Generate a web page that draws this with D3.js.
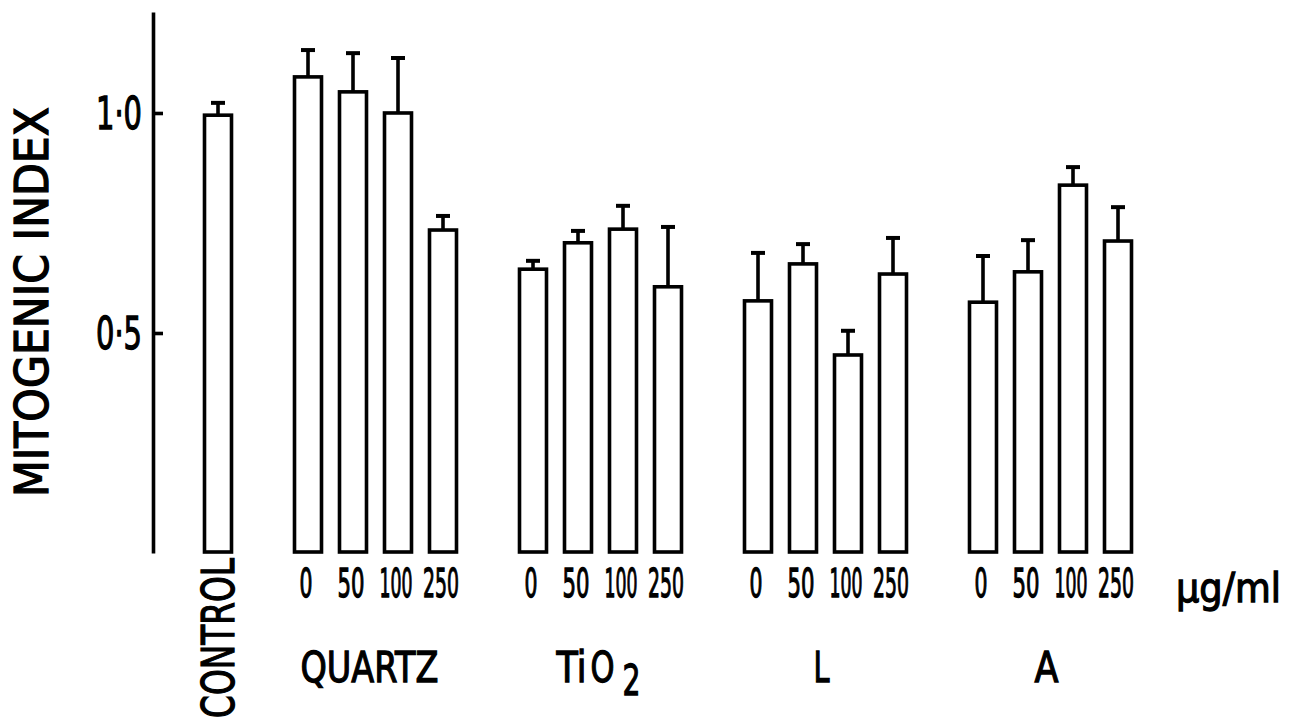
<!DOCTYPE html>
<html>
<head>
<meta charset="utf-8">
<script src="https://cdn.jsdelivr.net/npm/d3@7"></script>
<style>
  html, body { margin: 0; padding: 0; background: #fff; }
  svg { display: block; }
  text { font-family: "DejaVu Sans", sans-serif; font-weight: normal; fill: #000; stroke: #000; stroke-width: 1.3px; }
</style>
</head>
<body>
<svg id="chart" width="1297" height="723"></svg>
<script>
// ---- data ----
const controlLabel = "CONTROL";
const controlValue = 0.995;
const controlErr = 0.028;

const groups = ["QUARTZ", "TiO2", "L", "A"];
const doses = ["0", "50", "100", "250"];
const doseUnit = "µg/ml";

const quartzValues = [1.082, 1.048, 1.000, 0.734];
const quartzErrors = [0.061, 0.088, 0.125, 0.032];
const tio2Values   = [0.645, 0.705, 0.736, 0.605];
const tio2Errors   = [0.019, 0.027, 0.053, 0.136];
const lValues      = [0.573, 0.657, 0.450, 0.634];
const lErrors      = [0.109, 0.045, 0.055, 0.082];
const aValues      = [0.570, 0.639, 0.836, 0.709];
const aErrors      = [0.105, 0.072, 0.041, 0.077];

const yTicks = [0.5, 1.0];
const yTickLabels = ["0·5", "1·0"];
const yTitle = "MITOGENIC INDEX";

// ---- build bar table ----
const groupValues = [quartzValues, tio2Values, lValues, aValues];
const groupErrors = [quartzErrors, tio2Errors, lErrors, aErrors];

const slots = [controlLabel];
const bars = [{ key: controlLabel, value: controlValue, err: controlErr }];
groups.forEach((g, gi) => {
  slots.push("_gap" + gi);
  doses.forEach((d, di) => {
    const key = g + "-" + d;
    slots.push(key);
    bars.push({ key, group: g, dose: d, value: groupValues[gi][di], err: groupErrors[gi][di] });
  });
});

// ---- scales ----
const svg = d3.select("#chart");
const x = d3.scaleBand().domain(slots).range([195.5, 1140.5]).paddingInner(0.4).paddingOuter(0.2);
const y = d3.scaleLinear().domain([0, 1.2295]).range([553, 12]);

const SW = 3.6;

// ---- y axis ----
const yAxis = d3.axisLeft(y).tickValues(yTicks).tickSize(-10).tickSizeOuter(0).tickFormat(() => "");
const gy = svg.append("g").attr("transform", "translate(153,0)").call(yAxis);
gy.select(".domain").attr("stroke", "#000").attr("stroke-width", SW);
gy.selectAll(".tick line").attr("stroke", "#000").attr("stroke-width", SW);
gy.selectAll(".tick text").remove();

svg.append("g").selectAll("text").data(yTicks).join("text")
  .attr("x", 142).attr("y", d => y(d) + 16)
  .attr("text-anchor", "end")
  .attr("font-size", 44)
  .attr("textLength", 46).attr("lengthAdjust", "spacingAndGlyphs")
  .text((d, i) => yTickLabels[i]);

// y title
svg.append("text")
  .attr("transform", "translate(48,302) rotate(-90)")
  .attr("text-anchor", "middle")
  .attr("font-size", 46)
  .attr("textLength", 390).attr("lengthAdjust", "spacingAndGlyphs")
  .text(yTitle);

// ---- bars ----
const bw = x.bandwidth();
const gBars = svg.append("g");
gBars.selectAll("rect").data(bars).join("rect")
  .attr("x", d => x(d.key))
  .attr("y", d => y(d.value))
  .attr("width", bw)
  .attr("height", d => y(0) - y(d.value) - 1)
  .attr("fill", "#fff")
  .attr("stroke", "#000")
  .attr("stroke-width", SW);

// error bars
const gErr = svg.append("g").attr("stroke", "#000");
gErr.selectAll("line.stem").data(bars).join("line")
  .attr("class", "stem")
  .attr("x1", d => x(d.key) + bw / 2).attr("x2", d => x(d.key) + bw / 2)
  .attr("y1", d => y(d.value)).attr("y2", d => y(d.value + d.err))
  .attr("stroke-width", SW);
gErr.selectAll("line.cap").data(bars).join("line")
  .attr("class", "cap")
  .attr("x1", d => x(d.key) + bw / 2 - 7).attr("x2", d => x(d.key) + bw / 2 + 7)
  .attr("y1", d => y(d.value + d.err)).attr("y2", d => y(d.value + d.err))
  .attr("stroke-width", 4);

// ---- dose labels ----
const doseBars = bars.filter(d => d.dose !== undefined);
const doseW = { "0": 13, "50": 27, "100": 33, "250": 36 };
svg.append("g").selectAll("text").data(doseBars).join("text")
  .attr("x", d => x(d.key) + bw / 2 - 2)
  .attr("y", 597)
  .attr("text-anchor", "middle")
  .attr("font-size", 39)
  .attr("textLength", d => doseW[d.dose]).attr("lengthAdjust", "spacingAndGlyphs")
  .text(d => d.dose);

// unit
svg.append("text")
  .attr("x", 1176).attr("y", 602)
  .attr("font-size", 40)
  .attr("textLength", 105).attr("lengthAdjust", "spacingAndGlyphs")
  .text(doseUnit);

// control label (vertical)
svg.append("text")
  .attr("transform", `translate(${x(controlLabel) + bw / 2 + 16},558) rotate(-90)`)
  .attr("text-anchor", "end")
  .attr("font-size", 44)
  .attr("textLength", 160).attr("lengthAdjust", "spacingAndGlyphs")
  .text(controlLabel);

// group labels
const groupCenter = g => {
  const first = x(g + "-" + doses[0]);
  const last = x(g + "-" + doses[doses.length - 1]) + bw;
  return (first + last) / 2;
};
const groupLabelW = { "QUARTZ": 138, "L": 16, "A": 24 };
const gl = svg.append("g");
groups.forEach(g => {
  const cx = groupCenter(g);
  if (g === "TiO2") {
    const t = gl.append("text").attr("x", cx - 44).attr("y", 682)
      .attr("font-size", 42);
    t.append("tspan").text("Ti").attr("textLength", 30).attr("lengthAdjust", "spacingAndGlyphs");
    t.append("tspan").text("O").attr("dx", 4).attr("textLength", 24).attr("lengthAdjust", "spacingAndGlyphs");
    t.append("tspan").text("2").attr("dx", 8).attr("dy", 13).attr("textLength", 18).attr("lengthAdjust", "spacingAndGlyphs");
  } else {
    gl.append("text").attr("x", cx - (g === "QUARTZ" ? 6 : 4)).attr("y", 682)
      .attr("text-anchor", "middle")
      .attr("font-size", 42)
      .attr("textLength", groupLabelW[g]).attr("lengthAdjust", "spacingAndGlyphs")
      .text(g);
  }
});
</script>
</body>
</html>
